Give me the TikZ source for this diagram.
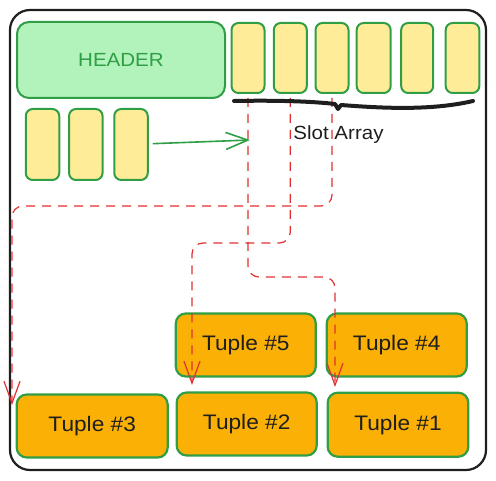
\documentclass[tikz,border=0pt]{standalone}
\usepackage{fontspec}
\newfontfamily\hand{Liberation Sans}[FakeStretch=1.08]
\usetikzlibrary{arrows.meta,calc}
\definecolor{exgreen}{HTML}{2F9E44}
\definecolor{hdrfill}{HTML}{B2F2BB}
\definecolor{slotfill}{HTML}{FFEC99}
\definecolor{tuplefill}{HTML}{FAB005}
\definecolor{exred}{HTML}{E03131}
\definecolor{exblack}{HTML}{1E1E1E}
\tikzset{
  frame/.style={draw=exblack, line width=2.2pt, rounded corners=20pt, inner sep=0pt,
    minimum width=476pt, minimum height=460pt},
  header/.style={draw=exgreen, fill=hdrfill, line width=2pt, rounded corners=12pt, inner sep=0pt,
    minimum width=208pt, minimum height=76pt, text=exgreen, font=\hand\fontsize{19}{19}\selectfont},
  slotbox/.style={draw=exgreen, fill=slotfill, line width=2pt, rounded corners=7pt, inner sep=0pt,
    minimum width=33pt, minimum height=70pt},
  tuple/.style={draw=exgreen, fill=tuplefill, line width=2.2pt, rounded corners=10pt, inner sep=0pt,
    minimum width=140pt, minimum height=63pt, text=exblack, font=\hand\fontsize{21}{21}\selectfont},
  label/.style={text=exblack, font=\hand\fontsize{19}{19}\selectfont, inner sep=0pt},
  garrow/.style={draw=exgreen, line width=1.6pt, -{Straight Barb[length=22pt,width=17pt]}},
  rarrow/.style={draw=exred, line width=1.2pt, dash pattern=on 9pt off 7pt, rounded corners=11pt,
    -{Straight Barb[length=22pt,width=16pt]}},
  bracket/.style={draw=exblack, line width=4pt, line cap=round, line join=round}
}
\begin{document}
\begin{tikzpicture}[x=1pt,y=-1pt]
\useasboundingbox (0,0) rectangle (496,481);
\node[frame] (fr) at (248,240) {};
\node[header] (hdr) at (121,60) {HEADER};
% slot array
\node[slotbox] (s1) at (248,58) {};
\node[slotbox] (s2) at (290.3,58) {};
\node[slotbox] (s3) at (332,58) {};
\node[slotbox, minimum width=34pt] (s4) at (373.7,58) {};
\node[slotbox, minimum width=32pt] (s5) at (417.2,58) {};
\node[slotbox, minimum width=33.6pt] (s6) at (462.5,58) {};
% left slots
\node[slotbox, minimum width=33.5pt, minimum height=71pt] (l1) at (42.5,144.5) {};
\node[slotbox, minimum width=33.5pt, minimum height=71pt] (l2) at (85.8,144.5) {};
\node[slotbox, minimum width=33.5pt, minimum height=71pt] (l3) at (131,144.5) {};
% tuples
\node[tuple] (t5) at (245.8,345) {Tuple \#5};
\node[tuple] (t4) at (396.7,345) {Tuple \#4};
\node[tuple, minimum width=151pt] (t3) at (92.2,426) {Tuple \#3};
\node[tuple] (t2) at (246.7,424) {Tuple \#2};
\node[tuple, minimum width=140.6pt, minimum height=64pt] (t1) at (398,424.7) {Tuple \#1};
% red dashed pointers
\coordinate (a1) at (335,387);
\coordinate (a2) at (192,385);
\coordinate (a3) at (12,405);
\draw[rarrow] ([yshift=-4pt]s1.south) -- ++(0,179) -| (a1);
\draw[rarrow] ([yshift=-4pt]s2.south) -- ++(0,145) -| (a2);
\draw[rarrow] ([yshift=-4pt]s3.south) -- ++(0,108) -| (a3);
% bracket under slot array
\draw[bracket] (234,101) .. controls (285,100) and (318,102) .. (335,104) -- (338,109) -- (341,105)
  .. controls (380,108) and (430,111) .. (473,101);
\node[label, anchor=base] (sa) at (338.5,140) {Slot Array};
% green arrow
\coordinate (ga) at (250,140);
\draw[garrow, shorten <=4pt] (l3) -- (ga);
\end{tikzpicture}
\end{document}
